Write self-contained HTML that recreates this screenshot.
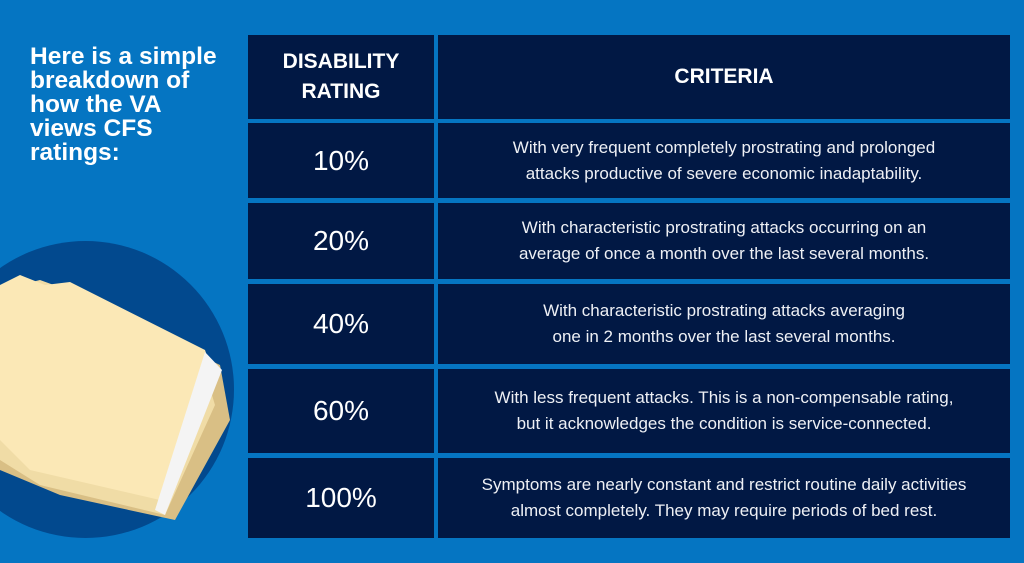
<!DOCTYPE html>
<html><head><meta charset="utf-8"><style>
*{margin:0;padding:0;box-sizing:border-box}
body{width:1024px;height:563px;background:#0575c2;position:relative;overflow:hidden;font-family:"Liberation Sans",Arial,sans-serif;color:#fff}
.c{position:absolute;background:#011844;display:flex;align-items:center;justify-content:center;text-align:center}
.r{font-size:28px}
.t{font-size:17px;line-height:26px;color:#eef0f5}
.h{font-weight:bold;font-size:21px;line-height:30px}
#title{position:absolute;left:30px;top:45px;font-weight:bold;font-size:24.5px;line-height:24px;width:200px}
#circ{position:absolute;left:-63px;top:241px;width:297px;height:297px;border-radius:50%;background:#02498e}
</style></head><body>
<div id="title">Here is a simple breakdown of how the VA views CFS ratings:</div>
<div id="circ"></div>
<svg style="position:absolute;left:0;top:270px" width="240" height="260">
<polygon points="0,30 30,15 60,20 220,95 230,150 175,250 60,225 0,200" fill="#d9bf85"/>
<polygon points="0,20 40,10 95,30 200,85 215,135 165,245 40,215 0,190" fill="#f0dca6"/>
<polygon points="20,5 45,15 70,12 205,80 215,110 160,230 30,200 0,170 0,15" fill="#fbe8b6"/>
<polygon points="205,82 222,100 165,245 155,240" fill="#f4f4f4"/>
</svg>
<div class="c h" style="left:248px;top:35px;width:186px;height:84px">DISABILITY<br>RATING</div>
<div class="c h" style="left:438px;top:35px;width:572px;height:84px">CRITERIA</div>
<div class="c r" style="left:248px;top:123px;width:186px;height:75px">10%</div>
<div class="c t" style="left:438px;top:123px;width:572px;height:75px">With very frequent completely prostrating and prolonged<br>attacks productive of severe economic inadaptability.</div>
<div class="c r" style="left:248px;top:203px;width:186px;height:76px">20%</div>
<div class="c t" style="left:438px;top:203px;width:572px;height:76px">With characteristic prostrating attacks occurring on an<br>average of once a month over the last several months.</div>
<div class="c r" style="left:248px;top:284px;width:186px;height:80px">40%</div>
<div class="c t" style="left:438px;top:284px;width:572px;height:80px">With characteristic prostrating attacks averaging<br>one in 2 months over the last several months.</div>
<div class="c r" style="left:248px;top:369px;width:186px;height:84px">60%</div>
<div class="c t" style="left:438px;top:369px;width:572px;height:84px">With less frequent attacks. This is a non-compensable rating,<br>but it acknowledges the condition is service-connected.</div>
<div class="c r" style="left:248px;top:458px;width:186px;height:80px">100%</div>
<div class="c t" style="left:438px;top:458px;width:572px;height:80px">Symptoms are nearly constant and restrict routine daily activities<br>almost completely. They may require periods of bed rest.</div>
</body></html>
